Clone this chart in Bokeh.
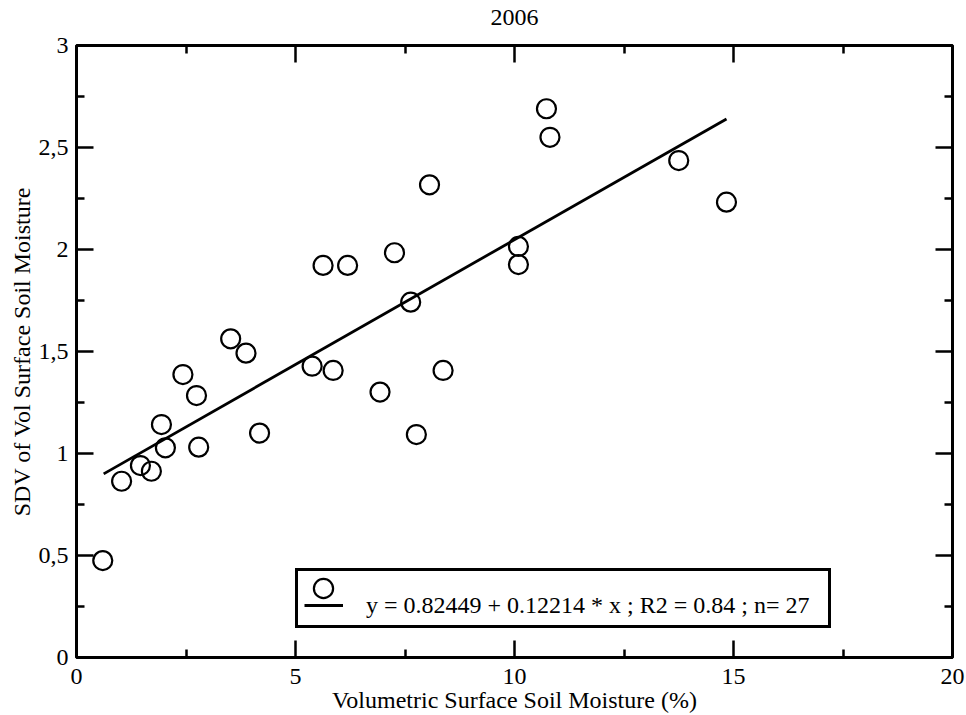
from bokeh.plotting import figure
from bokeh.models import (LinearAxis, FixedTicker, Range1d, Legend, LegendItem,
                          CustomJSTickFormatter)
from bokeh.embed import file_html
from bokeh.resources import INLINE

# ---------------- data ----------------
soil_moisture = [0.60, 1.03, 1.46, 1.71, 1.94, 2.03, 2.43, 2.74, 2.79, 3.52, 3.87, 4.18,
                 5.38, 5.63, 5.86, 6.19, 6.93, 7.26, 7.63, 7.76, 8.06, 8.37,
                 10.09, 10.09, 10.73, 10.81, 13.75, 14.84]
sdv_moisture = [0.475, 0.864, 0.941, 0.913, 1.142, 1.028, 1.387, 1.284, 1.031, 1.562, 1.492, 1.100,
                1.428, 1.922, 1.407, 1.922, 1.301, 1.984, 1.742, 1.093, 2.317, 1.407,
                2.015, 1.926, 2.690, 2.550, 2.436, 2.232]
fit_x = [0.62, 14.84]
fit_y = [0.90, 2.64]

x_ticks = [0, 5, 10, 15, 20]
x_tick_labels = ["0", "5", "10", "15", "20"]
x_minor_ticks = [2.5, 7.5, 12.5, 17.5]
y_ticks = [0, 0.5, 1, 1.5, 2, 2.5, 3]
y_tick_labels = ["0", "0,5", "1", "1,5", "2", "2,5", "3"]
y_minor_ticks = [0.25, 0.75, 1.25, 1.75, 2.25, 2.75]

title_text = "2006"
x_label = "Volumetric Surface Soil Moisture (%)"
y_label = "SDV of Vol Surface Soil Moisture"
fit_label = "y = 0.82449 + 0.12214 * x ; R2 = 0.84 ; n= 27"

FONT = "Liberation Serif"

p = figure(width=966, height=715,
           x_range=Range1d(0, 20), y_range=Range1d(0, 3),
           output_backend="svg", toolbar_location=None,
           min_border_left=76, min_border_right=14,
           min_border_top=45, min_border_bottom=58,
           x_axis_label=x_label, y_axis_label=y_label)

bottom_axis = p.below[0]
left_axis = p.left[0]

p.grid.visible = False
p.outline_line_color = "black"
p.outline_line_width = 3
p.background_fill_color = "white"
p.border_fill_color = "white"

# the top axis carries the chart title "2006" as its label
top_axis = LinearAxis(axis_label=title_text)
right_axis = LinearAxis()
p.add_layout(top_axis, "above")
p.add_layout(right_axis, "right")

xt = FixedTicker(ticks=x_ticks, minor_ticks=x_minor_ticks)
yt = FixedTicker(ticks=y_ticks, minor_ticks=y_minor_ticks)

for ax in [bottom_axis, top_axis]:
    ax.ticker = xt
for ax in [left_axis, right_axis]:
    ax.ticker = yt

bottom_axis.major_label_overrides = dict(zip(x_ticks, x_tick_labels))
left_axis.major_label_overrides = dict(zip(y_ticks, y_tick_labels))

for ax in [bottom_axis, left_axis, top_axis, right_axis]:
    ax.axis_line_color = None
    ax.major_tick_in = 17
    ax.major_tick_out = 0
    ax.minor_tick_in = 8
    ax.minor_tick_out = 0
    ax.major_tick_line_width = 2.5
    ax.minor_tick_line_width = 2.5
    ax.major_tick_line_color = "black"
    ax.minor_tick_line_color = "black"
    ax.major_label_text_font = FONT
    ax.major_label_text_font_size = "24px"
    ax.major_label_text_color = "black"
    ax.axis_label_text_font = FONT
    ax.axis_label_text_font_size = "24px"
    ax.axis_label_text_font_style = "normal"
    ax.axis_label_text_color = "black"

for ax in [top_axis, right_axis]:
    ax.formatter = CustomJSTickFormatter(code="return ''")
    ax.major_label_standoff = 0
top_axis.axis_label_standoff = 21

bottom_axis.major_label_standoff = 11
bottom_axis.axis_label_standoff = 0
left_axis.major_label_standoff = 8
left_axis.axis_label_standoff = 1

pts = p.scatter(soil_moisture, sdv_moisture, marker="circle", size=19,
                fill_color=None, line_color="black", line_width=2.2)
fit = p.line(fit_x, fit_y, line_color="black", line_width=2.8)

legend_text = Legend(items=[LegendItem(label=fit_label, renderers=[fit])],
                     location=(219, 29), orientation="vertical",
                     title=" ", title_text_font_size="10px", title_standoff=3,
                     padding=6, margin=0, spacing=0,
                     glyph_width=39, glyph_height=28, label_height=28,
                     label_width=456, label_standoff=23,
                     label_text_font=FONT, label_text_font_size="24px",
                     label_text_color="black",
                     border_line_color="black", border_line_width=3,
                     border_line_alpha=1.0,
                     background_fill_color="white", background_fill_alpha=1)
legend_marker = Legend(items=[LegendItem(label=" ", renderers=[pts])],
                       location=(223, 45), padding=0, margin=0, spacing=0,
                       glyph_width=48, glyph_height=48, label_standoff=0,
                       label_text_font_size="2px",
                       border_line_color=None, background_fill_alpha=0)
p.add_layout(legend_text)
p.add_layout(legend_marker)

open("out.html", "w").write(file_html(p, INLINE))
